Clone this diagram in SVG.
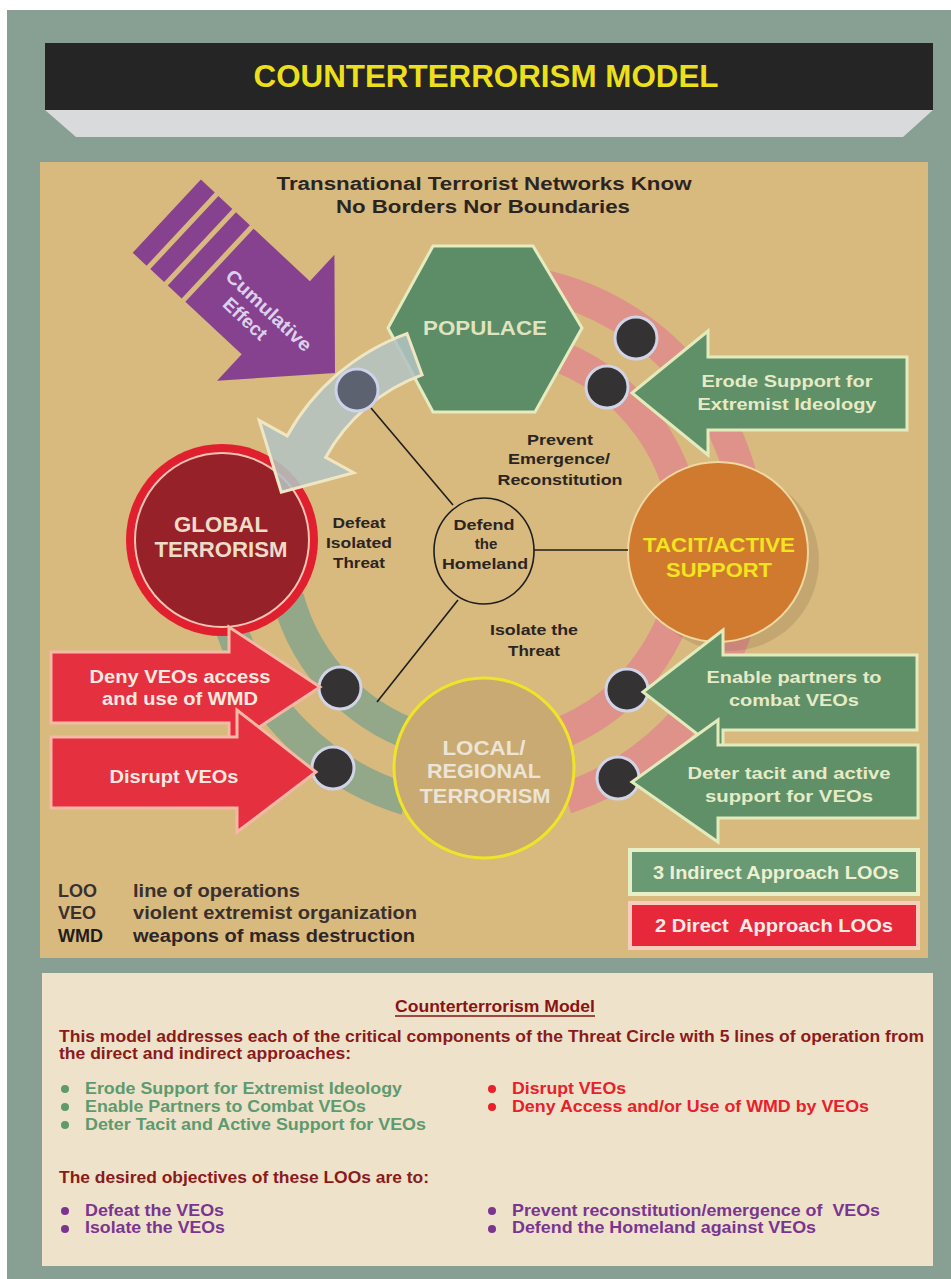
<svg xmlns="http://www.w3.org/2000/svg" width="951" height="1279" viewBox="0 0 951 1279">
<defs>
<style>
.t{font-family:"Liberation Sans",Arial,sans-serif;font-weight:bold}
.dk{fill:#2b2522}
.ag{fill:#5f9068;stroke:#e3ebbd;stroke-width:3}
.ar{fill:#e5313f;stroke:#f5b9a6;stroke-width:3}
.dot{fill:#353234;stroke:#d0d4e6;stroke-width:3}
.cream{fill:#e6ebc6}
.pink{fill:#fbe9e2}
.band{fill:none;stroke-width:32}
.red{stroke:#de9289}
.grn{stroke:#93a889}
.ln{stroke:#1e1e1e;stroke-width:1.6;fill:none}
.bx{font-family:"Liberation Sans",Arial,sans-serif;font-weight:bold;font-size:17px}
.pre{white-space:pre}
</style>
</defs>
<rect width="951" height="1279" fill="#ffffff"/>
<rect x="7" y="10" width="944" height="1269" fill="#87a093"/>

<g id="header">
<rect x="45" y="43" width="888" height="67" fill="#252525"/>
<polygon points="45,110 933,110 903,137 76,137" fill="#d9dadb"/>
<text class="t" x="486" y="87" font-size="31" fill="#ecdf1c" text-anchor="middle" textLength="465" lengthAdjust="spacingAndGlyphs">COUNTERTERRORISM MODEL</text>
</g>

<rect id="panel" x="40" y="162" width="888" height="796" fill="#d8b97e"/>

<g id="subtitle">
<text class="t dk" x="484" y="190" font-size="18" text-anchor="middle" textLength="415" lengthAdjust="spacingAndGlyphs">Transnational Terrorist Networks Know</text>
<text class="t dk" x="483" y="213" font-size="18" text-anchor="middle" textLength="294" lengthAdjust="spacingAndGlyphs">No Borders Nor Boundaries</text>
</g>

<g id="cumulative-effect" transform="translate(335,373) rotate(43)">
<polygon points="0,0 -81,-86 -81,-50 -158,-50 -158,50 -81,50 -81,86" fill="#86428f"/>
<rect x="-182" y="-50" width="19" height="100" fill="#86428f"/>
<rect x="-206" y="-50" width="19" height="100" fill="#86428f"/>
<rect x="-230" y="-50" width="19" height="100" fill="#86428f"/>
<text class="t" x="-146" y="6" font-size="19" fill="#dcd0ec" textLength="110" lengthAdjust="spacingAndGlyphs">Cumulative</text>
<text class="t" x="-129" y="28" font-size="19" fill="#dcd0ec">Effect</text>
</g>

<g id="connectors">
<path class="band red" d="M546.7,351.9 A203,203 0 0,1 553.4,735.8"/>
<path class="band red" d="M543.8,285.8 A266,266 0 0,1 566.2,798"/>
<path class="band grn" d="M287.9,597.5 A203,203 0 0,0 431.5,741.1"/>
<path class="band grn" d="M229.6,622.8 A266,266 0 0,0 406.2,799.4"/>
</g>

<g id="populace">
<polygon points="388,328 433,246 533,246 582,328 535,412 433,412" fill="#5c8d66" stroke="#e4ecc0" stroke-width="3"/>
<text class="t" x="485" y="335" font-size="21" fill="#dfe3bf" text-anchor="middle" textLength="124" lengthAdjust="spacingAndGlyphs">POPULACE</text>
</g>

<g id="global-terrorism">
<circle cx="222" cy="540" r="96" fill="#e0202e"/>
<circle cx="222" cy="540" r="87" fill="#972129" stroke="#f2c4b4" stroke-width="2"/>
<text class="t" x="221" y="532" font-size="22" fill="#ecdcc8" text-anchor="middle" textLength="94" lengthAdjust="spacingAndGlyphs">GLOBAL</text>
<text class="t" x="221" y="557" font-size="22" fill="#ecdcc8" text-anchor="middle" textLength="133" lengthAdjust="spacingAndGlyphs">TERRORISM</text>
</g>

<g id="populace-to-global">
<path d="M407,333.6 A225,225 0 0,0 287.2,435.9 L259.2,420.4 L281.3,492.1 L353.7,472.8 L325.7,457.3 A181,181 0 0,1 422.1,374.9 Z" fill="#b3c3c2" fill-opacity="0.88" stroke="#efe6c4" stroke-width="3"/>
</g>

<g id="local-regional-terrorism">
<circle cx="484" cy="768" r="90" fill="#c9aa72" stroke="#f0e428" stroke-width="3"/>
<text class="t" x="484" y="755" font-size="21" fill="#ece4d6" text-anchor="middle" textLength="83" lengthAdjust="spacingAndGlyphs">LOCAL/</text>
<text class="t" x="484" y="778" font-size="21" fill="#ece4d6" text-anchor="middle" textLength="114" lengthAdjust="spacingAndGlyphs">REGIONAL</text>
<text class="t" x="485" y="803" font-size="21" fill="#ece4d6" text-anchor="middle" textLength="131" lengthAdjust="spacingAndGlyphs">TERRORISM</text>
</g>

<g id="tacit-active-support">
<circle cx="729" cy="561" r="90" fill="#5a4020" fill-opacity="0.15"/>
<circle cx="718" cy="552" r="90" fill="#d07a30" stroke="#f0d8a0" stroke-width="2"/>
<text class="t" x="719" y="552" font-size="21" fill="#f2e41e" text-anchor="middle" textLength="152" lengthAdjust="spacingAndGlyphs">TACIT/ACTIVE</text>
<text class="t" x="719" y="577" font-size="21" fill="#f2e41e" text-anchor="middle" textLength="106" lengthAdjust="spacingAndGlyphs">SUPPORT</text>
</g>

<g id="defend-the-homeland">
<ellipse cx="484" cy="551" rx="50" ry="53" class="ln"/>
<text class="t dk" x="484" y="530" font-size="15" text-anchor="middle" textLength="61" lengthAdjust="spacingAndGlyphs">Defend</text>
<text class="t dk" x="486" y="549" font-size="15" text-anchor="middle">the</text>
<text class="t dk" x="485" y="569" font-size="15" text-anchor="middle" textLength="86" lengthAdjust="spacingAndGlyphs">Homeland</text>
</g>

<g id="objective-lines">
<line class="ln" x1="453" y1="505" x2="371" y2="408"/>
<line class="ln" x1="534" y1="550" x2="628" y2="550"/>
<line class="ln" x1="458" y1="600" x2="377" y2="702"/>
</g>

<g id="objective-labels">
<text class="t dk" x="560" y="445" font-size="15" text-anchor="middle" textLength="66" lengthAdjust="spacingAndGlyphs">Prevent</text>
<text class="t dk" x="559" y="464" font-size="15" text-anchor="middle" textLength="102" lengthAdjust="spacingAndGlyphs">Emergence/</text>
<text class="t dk" x="560" y="485" font-size="15" text-anchor="middle" textLength="125" lengthAdjust="spacingAndGlyphs">Reconstitution</text>
<text class="t dk" x="359" y="528" font-size="15" text-anchor="middle" textLength="53" lengthAdjust="spacingAndGlyphs">Defeat</text>
<text class="t dk" x="359" y="548" font-size="15" text-anchor="middle" textLength="66" lengthAdjust="spacingAndGlyphs">Isolated</text>
<text class="t dk" x="359" y="568" font-size="15" text-anchor="middle" textLength="52" lengthAdjust="spacingAndGlyphs">Threat</text>
<text class="t dk" x="534" y="635" font-size="15" text-anchor="middle" textLength="88" lengthAdjust="spacingAndGlyphs">Isolate the</text>
<text class="t dk" x="534" y="656" font-size="15" text-anchor="middle" textLength="52" lengthAdjust="spacingAndGlyphs">Threat</text>
</g>

<g id="loo-points">
<circle cx="357" cy="390" r="21" fill="#5c6270" stroke="#ccd3ea" stroke-width="3"/>
<circle class="dot" cx="636" cy="338" r="21"/>
<circle class="dot" cx="607" cy="387" r="21"/>
<circle class="dot" cx="627" cy="690" r="21"/>
<circle class="dot" cx="618" cy="778" r="21"/>
<circle class="dot" cx="340" cy="688" r="21"/>
<circle class="dot" cx="333" cy="768" r="21"/>
</g>

<g id="erode-support">
<polygon class="ag" points="632,393 708,331 708,357 907,357 907,430 708,430 708,455"/>
<text class="t cream" x="787" y="387" font-size="17" text-anchor="middle" textLength="171" lengthAdjust="spacingAndGlyphs">Erode Support for</text>
<text class="t cream" x="787" y="410" font-size="17" text-anchor="middle" textLength="179" lengthAdjust="spacingAndGlyphs">Extremist Ideology</text>
</g>

<g id="enable-partners">
<polygon class="ag" points="643,692 723,630 723,655 917,655 917,730 723,730 723,754"/>
<text class="t cream" x="794" y="683" font-size="17" text-anchor="middle" textLength="175" lengthAdjust="spacingAndGlyphs">Enable partners to</text>
<text class="t cream" x="794" y="706" font-size="17" text-anchor="middle" textLength="130" lengthAdjust="spacingAndGlyphs">combat VEOs</text>
</g>

<g id="deter-support">
<polygon class="ag" points="632,782 718,720 718,745 918,745 918,818 718,818 718,842"/>
<text class="t cream" x="789" y="779" font-size="17" text-anchor="middle" textLength="203" lengthAdjust="spacingAndGlyphs">Deter tacit and active</text>
<text class="t cream" x="789" y="802" font-size="17" text-anchor="middle" textLength="168" lengthAdjust="spacingAndGlyphs">support for VEOs</text>
</g>

<g id="deny-wmd">
<polygon class="ar" points="51,652 229,652 229,627 320,687 229,747 229,723 51,723"/>
<text class="t pink" x="180" y="683" font-size="18" text-anchor="middle" textLength="181" lengthAdjust="spacingAndGlyphs">Deny VEOs access</text>
<text class="t pink" x="180" y="705" font-size="18" text-anchor="middle" textLength="156" lengthAdjust="spacingAndGlyphs">and use of WMD</text>
</g>

<g id="disrupt-veos">
<polygon class="ar" points="51,737 237,737 237,710 316,772 237,832 237,808 51,808"/>
<text class="t pink" x="174" y="783" font-size="18" text-anchor="middle" textLength="129" lengthAdjust="spacingAndGlyphs">Disrupt VEOs</text>
</g>

<g id="legend-approach">
<rect x="630" y="850" width="288" height="44" fill="#6a9a73" stroke="#e6efc6" stroke-width="4"/>
<text class="t" x="776" y="879" font-size="18" fill="#eef0d2" text-anchor="middle" textLength="246" lengthAdjust="spacingAndGlyphs">3 Indirect Approach LOOs</text>
<rect x="630" y="903" width="288" height="45" fill="#e6283a" stroke="#f8cdbb" stroke-width="4"/>
<text class="t pre" x="774" y="932" font-size="18" fill="#fbeaea" text-anchor="middle" textLength="238" lengthAdjust="spacingAndGlyphs">2 Direct  Approach LOOs</text>
</g>

<g id="abbreviations" class="t" font-size="18" fill="#3a302e">
<text x="58" y="897">LOO</text>
<text x="133" y="897" textLength="167" lengthAdjust="spacingAndGlyphs">line of operations</text>
<text x="58" y="919">VEO</text>
<text x="133" y="919" textLength="284" lengthAdjust="spacingAndGlyphs">violent extremist organization</text>
<text x="58" y="942" fill="#221c1c">WMD</text>
<text x="133" y="942" fill="#2e2626" textLength="282" lengthAdjust="spacingAndGlyphs">weapons of mass destruction</text>
</g>

<g id="description">
<rect x="42" y="973" width="891" height="293" fill="#eee2ca"/>
<text class="bx" x="495" y="1012" fill="#8b1212" text-anchor="middle" textLength="200" lengthAdjust="spacingAndGlyphs">Counterterrorism Model</text>
<line x1="395" y1="1016" x2="595" y2="1016" stroke="#8b1212" stroke-width="1.5"/>
<text class="bx" x="59" y="1042" fill="#8b1a1a" textLength="865" lengthAdjust="spacingAndGlyphs">This model addresses each of the critical components of the Threat Circle with 5 lines of operation from</text>
<text class="bx" x="59" y="1059" fill="#8b1a1a" textLength="292" lengthAdjust="spacingAndGlyphs">the direct and indirect approaches:</text>
<g fill="#5e9a6e">
<circle cx="65" cy="1089" r="4"/><circle cx="65" cy="1107" r="4"/><circle cx="65" cy="1125" r="4"/>
<text class="bx" x="85" y="1094" textLength="317" lengthAdjust="spacingAndGlyphs">Erode Support for Extremist Ideology</text>
<text class="bx" x="85" y="1112" textLength="281" lengthAdjust="spacingAndGlyphs">Enable Partners to Combat VEOs</text>
<text class="bx" x="85" y="1130" textLength="341" lengthAdjust="spacingAndGlyphs">Deter Tacit and Active Support for VEOs</text>
</g>
<g fill="#e8202a">
<circle cx="492" cy="1089" r="4"/><circle cx="492" cy="1107" r="4"/>
<text class="bx" x="512" y="1094" textLength="114" lengthAdjust="spacingAndGlyphs">Disrupt VEOs</text>
<text class="bx" x="512" y="1112" textLength="357" lengthAdjust="spacingAndGlyphs">Deny Access and/or Use of WMD by VEOs</text>
</g>
<text class="bx" x="59" y="1183" fill="#8b1a1a" textLength="370" lengthAdjust="spacingAndGlyphs">The desired objectives of these LOOs are to:</text>
<g fill="#7b3590">
<circle cx="65" cy="1211" r="4"/><circle cx="65" cy="1229" r="4"/>
<circle cx="492" cy="1211" r="4"/><circle cx="492" cy="1229" r="4"/>
<text class="bx" x="85" y="1216" textLength="139" lengthAdjust="spacingAndGlyphs">Defeat the VEOs</text>
<text class="bx" x="85" y="1233" textLength="140" lengthAdjust="spacingAndGlyphs">Isolate the VEOs</text>
<text class="bx pre" x="512" y="1216" textLength="368" lengthAdjust="spacingAndGlyphs">Prevent reconstitution/emergence of  VEOs</text>
<text class="bx" x="512" y="1233" textLength="304" lengthAdjust="spacingAndGlyphs">Defend the Homeland against VEOs</text>
</g>
</g>
</svg>
